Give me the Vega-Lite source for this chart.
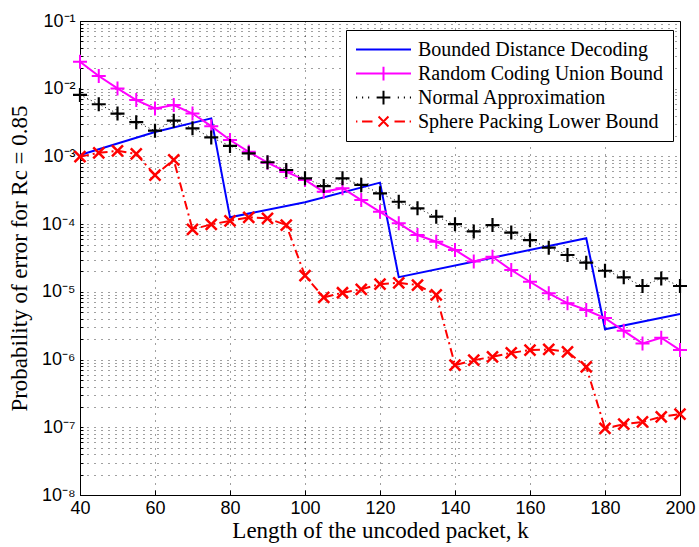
{
  "$schema": "https://vega.github.io/schema/vega-lite/v6.json",
  "width": 600,
  "height": 474,
  "autosize": "none",
  "padding": {"left": 80, "top": 21, "right": 19, "bottom": 52},
  "background": "white",
  "config": {
    "view": {"stroke": "black", "strokeWidth": 1},
    "axis": {
      "domainColor": "black",
      "tickColor": "black",
      "labelColor": "black",
      "titleColor": "black",
      "labelFont": "Liberation Sans",
      "labelFontSize": 18,
      "labelFlush": false,
      "titleFont": "Liberation Serif",
      "titleFontSize": 23,
      "titleFontWeight": "normal",
      "grid": true,
      "gridColor": "black",
      "gridDash": [1, 6],
      "gridOpacity": 0.75,
      "gridWidth": 1
    }
  },
  "data": {
    "values": [
      {"series": "Bounded Distance Decoding", "k": 40, "p": 1.05e-3},
      {"series": "Bounded Distance Decoding", "k": 60, "p": 2.3e-3},
      {"series": "Bounded Distance Decoding", "k": 75, "p": 3.65e-3},
      {"series": "Bounded Distance Decoding", "k": 80, "p": 1.26e-4},
      {"series": "Bounded Distance Decoding", "k": 100, "p": 2.1e-4},
      {"series": "Bounded Distance Decoding", "k": 120, "p": 4.1e-4},
      {"series": "Bounded Distance Decoding", "k": 125, "p": 1.65e-5},
      {"series": "Bounded Distance Decoding", "k": 150, "p": 3.2e-5},
      {"series": "Bounded Distance Decoding", "k": 175, "p": 6.2e-5},
      {"series": "Bounded Distance Decoding", "k": 180, "p": 2.8e-6},
      {"series": "Bounded Distance Decoding", "k": 200, "p": 4.7e-6},

      {"series": "Random Coding Union Bound", "k": 40, "p": 2.5e-2},
      {"series": "Random Coding Union Bound", "k": 45, "p": 1.54e-2},
      {"series": "Random Coding Union Bound", "k": 50, "p": 1.01e-2},
      {"series": "Random Coding Union Bound", "k": 55, "p": 6.8e-3},
      {"series": "Random Coding Union Bound", "k": 60, "p": 5.1e-3},
      {"series": "Random Coding Union Bound", "k": 65, "p": 5.75e-3},
      {"series": "Random Coding Union Bound", "k": 70, "p": 4.3e-3},
      {"series": "Random Coding Union Bound", "k": 75, "p": 2.8e-3},
      {"series": "Random Coding Union Bound", "k": 80, "p": 1.75e-3},
      {"series": "Random Coding Union Bound", "k": 85, "p": 1.17e-3},
      {"series": "Random Coding Union Bound", "k": 90, "p": 8.1e-4},
      {"series": "Random Coding Union Bound", "k": 95, "p": 5.9e-4},
      {"series": "Random Coding Union Bound", "k": 100, "p": 4.5e-4},
      {"series": "Random Coding Union Bound", "k": 105, "p": 3.0e-4},
      {"series": "Random Coding Union Bound", "k": 110, "p": 3.4e-4},
      {"series": "Random Coding Union Bound", "k": 115, "p": 2.27e-4},
      {"series": "Random Coding Union Bound", "k": 120, "p": 1.52e-4},
      {"series": "Random Coding Union Bound", "k": 125, "p": 1.03e-4},
      {"series": "Random Coding Union Bound", "k": 130, "p": 6.9e-5},
      {"series": "Random Coding Union Bound", "k": 135, "p": 5.5e-5},
      {"series": "Random Coding Union Bound", "k": 140, "p": 4.15e-5},
      {"series": "Random Coding Union Bound", "k": 145, "p": 2.8e-5},
      {"series": "Random Coding Union Bound", "k": 150, "p": 3.3e-5},
      {"series": "Random Coding Union Bound", "k": 155, "p": 2.1e-5},
      {"series": "Random Coding Union Bound", "k": 160, "p": 1.41e-5},
      {"series": "Random Coding Union Bound", "k": 165, "p": 9.5e-6},
      {"series": "Random Coding Union Bound", "k": 170, "p": 6.8e-6},
      {"series": "Random Coding Union Bound", "k": 175, "p": 5.4e-6},
      {"series": "Random Coding Union Bound", "k": 180, "p": 4.1e-6},
      {"series": "Random Coding Union Bound", "k": 185, "p": 2.66e-6},
      {"series": "Random Coding Union Bound", "k": 190, "p": 1.73e-6},
      {"series": "Random Coding Union Bound", "k": 195, "p": 2.1e-6},
      {"series": "Random Coding Union Bound", "k": 200, "p": 1.38e-6},

      {"series": "Normal Approximation", "k": 40, "p": 8.1e-3},
      {"series": "Normal Approximation", "k": 45, "p": 5.9e-3},
      {"series": "Normal Approximation", "k": 50, "p": 4.3e-3},
      {"series": "Normal Approximation", "k": 55, "p": 3.2e-3},
      {"series": "Normal Approximation", "k": 60, "p": 2.4e-3},
      {"series": "Normal Approximation", "k": 65, "p": 3.37e-3},
      {"series": "Normal Approximation", "k": 70, "p": 2.6e-3},
      {"series": "Normal Approximation", "k": 75, "p": 1.91e-3},
      {"series": "Normal Approximation", "k": 80, "p": 1.43e-3},
      {"series": "Normal Approximation", "k": 85, "p": 1.11e-3},
      {"series": "Normal Approximation", "k": 90, "p": 8.2e-4},
      {"series": "Normal Approximation", "k": 95, "p": 6.3e-4},
      {"series": "Normal Approximation", "k": 100, "p": 4.75e-4},
      {"series": "Normal Approximation", "k": 105, "p": 3.65e-4},
      {"series": "Normal Approximation", "k": 110, "p": 4.75e-4},
      {"series": "Normal Approximation", "k": 115, "p": 3.8e-4},
      {"series": "Normal Approximation", "k": 120, "p": 2.85e-4},
      {"series": "Normal Approximation", "k": 125, "p": 2.14e-4},
      {"series": "Normal Approximation", "k": 130, "p": 1.71e-4},
      {"series": "Normal Approximation", "k": 135, "p": 1.29e-4},
      {"series": "Normal Approximation", "k": 140, "p": 1.0e-4},
      {"series": "Normal Approximation", "k": 145, "p": 7.8e-5},
      {"series": "Normal Approximation", "k": 150, "p": 9.7e-5},
      {"series": "Normal Approximation", "k": 155, "p": 7.5e-5},
      {"series": "Normal Approximation", "k": 160, "p": 5.8e-5},
      {"series": "Normal Approximation", "k": 165, "p": 4.5e-5},
      {"series": "Normal Approximation", "k": 170, "p": 3.5e-5},
      {"series": "Normal Approximation", "k": 175, "p": 2.7e-5},
      {"series": "Normal Approximation", "k": 180, "p": 2.05e-5},
      {"series": "Normal Approximation", "k": 185, "p": 1.64e-5},
      {"series": "Normal Approximation", "k": 190, "p": 1.22e-5},
      {"series": "Normal Approximation", "k": 195, "p": 1.58e-5},
      {"series": "Normal Approximation", "k": 200, "p": 1.22e-5},

      {"series": "Sphere Packing Lower Bound", "k": 40, "p": 9.9e-4},
      {"series": "Sphere Packing Lower Bound", "k": 45, "p": 1.13e-3},
      {"series": "Sphere Packing Lower Bound", "k": 50, "p": 1.21e-3},
      {"series": "Sphere Packing Lower Bound", "k": 55, "p": 1.09e-3},
      {"series": "Sphere Packing Lower Bound", "k": 60, "p": 5.3e-4},
      {"series": "Sphere Packing Lower Bound", "k": 65, "p": 8.9e-4},
      {"series": "Sphere Packing Lower Bound", "k": 70, "p": 8.4e-5},
      {"series": "Sphere Packing Lower Bound", "k": 75, "p": 9.9e-5},
      {"series": "Sphere Packing Lower Bound", "k": 80, "p": 1.12e-4},
      {"series": "Sphere Packing Lower Bound", "k": 85, "p": 1.26e-4},
      {"series": "Sphere Packing Lower Bound", "k": 90, "p": 1.22e-4},
      {"series": "Sphere Packing Lower Bound", "k": 95, "p": 9.7e-5},
      {"series": "Sphere Packing Lower Bound", "k": 100, "p": 1.73e-5},
      {"series": "Sphere Packing Lower Bound", "k": 105, "p": 8.3e-6},
      {"series": "Sphere Packing Lower Bound", "k": 110, "p": 9.7e-6},
      {"series": "Sphere Packing Lower Bound", "k": 115, "p": 1.09e-5},
      {"series": "Sphere Packing Lower Bound", "k": 120, "p": 1.3e-5},
      {"series": "Sphere Packing Lower Bound", "k": 125, "p": 1.36e-5},
      {"series": "Sphere Packing Lower Bound", "k": 130, "p": 1.26e-5},
      {"series": "Sphere Packing Lower Bound", "k": 135, "p": 9.0e-6},
      {"series": "Sphere Packing Lower Bound", "k": 140, "p": 8.3e-7},
      {"series": "Sphere Packing Lower Bound", "k": 145, "p": 9.8e-7},
      {"series": "Sphere Packing Lower Bound", "k": 150, "p": 1.1e-6},
      {"series": "Sphere Packing Lower Bound", "k": 155, "p": 1.26e-6},
      {"series": "Sphere Packing Lower Bound", "k": 160, "p": 1.38e-6},
      {"series": "Sphere Packing Lower Bound", "k": 165, "p": 1.41e-6},
      {"series": "Sphere Packing Lower Bound", "k": 170, "p": 1.3e-6},
      {"series": "Sphere Packing Lower Bound", "k": 175, "p": 7.8e-7},
      {"series": "Sphere Packing Lower Bound", "k": 180, "p": 9.6e-8},
      {"series": "Sphere Packing Lower Bound", "k": 185, "p": 1.11e-7},
      {"series": "Sphere Packing Lower Bound", "k": 190, "p": 1.2e-7},
      {"series": "Sphere Packing Lower Bound", "k": 195, "p": 1.43e-7},
      {"series": "Sphere Packing Lower Bound", "k": 200, "p": 1.56e-7}
    ]
  },
  "encoding": {
    "x": {
      "field": "k",
      "type": "quantitative",
      "scale": {"domain": [40, 200], "nice": false, "zero": false},
      "axis": {
        "values": [40, 60, 80, 100, 120, 140, 160, 180, 200],
        "title": "Length of the uncoded packet, k",
        "tickSize": -5,
        "labelPadding": 9,
        "titlePadding": 2
      }
    },
    "y": {
      "field": "p",
      "type": "quantitative",
      "scale": {"type": "log", "domain": [1e-8, 1e-1], "nice": false},
      "axis": {
        "values": [1e-8, 2e-8, 3e-8, 4e-8, 5e-8, 6e-8, 7e-8, 8e-8, 9e-8,
                   1e-7, 2e-7, 3e-7, 4e-7, 5e-7, 6e-7, 7e-7, 8e-7, 9e-7,
                   1e-6, 2e-6, 3e-6, 4e-6, 5e-6, 6e-6, 7e-6, 8e-6, 9e-6,
                   1e-5, 2e-5, 3e-5, 4e-5, 5e-5, 6e-5, 7e-5, 8e-5, 9e-5,
                   1e-4, 2e-4, 3e-4, 4e-4, 5e-4, 6e-4, 7e-4, 8e-4, 9e-4,
                   1e-3, 2e-3, 3e-3, 4e-3, 5e-3, 6e-3, 7e-3, 8e-3, 9e-3,
                   1e-2, 2e-2, 3e-2, 4e-2, 5e-2, 6e-2, 7e-2, 8e-2, 9e-2, 1e-1],
        "labelExpr": "abs(log(datum.value)/LN10 - round(log(datum.value)/LN10)) < 0.001 ? '10⁻' + ['⁰','¹','²','³','⁴','⁵','⁶','⁷','⁸','⁹'][-round(log(datum.value)/LN10)] : ''",
        "title": "Probability of error for Rc = 0.85",
        "tickSize": -3,
        "labelPadding": 8,
        "titlePadding": 10
      }
    }
  },
  "layer": [
    {
      "transform": [{"filter": "datum.series === 'Normal Approximation'"}],
      "mark": {"type": "line", "color": "black", "strokeWidth": 1, "strokeDash": [1, 3]},
      "encoding": {}
    },
    {
      "transform": [{"filter": "datum.series === 'Sphere Packing Lower Bound'"}],
      "mark": {"type": "line", "color": "#ff0000", "strokeWidth": 2, "strokeDash": [9, 4, 2, 4]},
      "encoding": {}
    },
    {
      "transform": [{"filter": "datum.series === 'Bounded Distance Decoding'"}],
      "mark": {"type": "line", "color": "#0000ff", "strokeWidth": 2},
      "encoding": {}
    },
    {
      "transform": [{"filter": "datum.series === 'Random Coding Union Bound'"}],
      "mark": {"type": "line", "color": "#ff00ff", "strokeWidth": 2},
      "encoding": {}
    },
    {
      "transform": [{"filter": "datum.series === 'Random Coding Union Bound'"}],
      "mark": {"type": "point", "shape": "M-1,0H1M0,-1V1", "filled": false, "color": "#ff00ff", "strokeWidth": 2, "size": 196, "opacity": 1},
      "encoding": {}
    },
    {
      "transform": [{"filter": "datum.series === 'Normal Approximation'"}],
      "mark": {"type": "point", "shape": "M-1,0H1M0,-1V1", "filled": false, "color": "black", "strokeWidth": 2.2, "size": 196, "opacity": 1},
      "encoding": {}
    },
    {
      "transform": [{"filter": "datum.series === 'Sphere Packing Lower Bound'"}],
      "mark": {"type": "point", "shape": "M-1,-1L1,1M-1,1L1,-1", "filled": false, "color": "#ff0000", "strokeWidth": 2.5, "size": 121, "opacity": 1},
      "encoding": {}
    },
    {
      "transform": [{"filter": "false"}],
      "mark": {"type": "point", "filled": false, "strokeWidth": 2, "opacity": 1},
      "encoding": {
        "color": {
          "field": "series",
          "type": "nominal",
          "scale": {
            "domain": ["Bounded Distance Decoding", "Random Coding Union Bound", "Normal Approximation", "Sphere Packing Lower Bound"],
            "range": ["#0000ff", "#ff00ff", "#000000", "#ff0000"]
          },
          "legend": {
            "orient": "none",
            "legendX": 266,
            "legendY": 9,
            "title": null,
            "symbolSize": 3025,
            "symbolStrokeWidth": 2,
            "symbolOpacity": 1,
            "labelFont": "Liberation Serif",
            "labelFontSize": 20,
            "labelColor": "black",
            "labelOffset": 6,
            "labelLimit": 400,
            "clipHeight": 21,
            "rowPadding": 3,
            "padding": 9,
            "strokeColor": "black",
            "fillColor": "white",
            "cornerRadius": 0
          }
        },
        "shape": {
          "field": "series",
          "type": "nominal",
          "scale": {
            "domain": ["Bounded Distance Decoding", "Random Coding Union Bound", "Normal Approximation", "Sphere Packing Lower Bound"],
            "range": [
              "M-1,0H1",
              "M-1,0H1M0,-0.25V0.25",
              "M-1,0H-0.96M-0.78,0H-0.74M-0.56,0H-0.52M-0.25,0H0.25M0,-0.25V0.25M0.52,0H0.56M0.74,0H0.78M0.96,0H1",
              "M-1,0H-0.95M-0.78,0H-0.4M-0.18,-0.18L0.18,0.18M-0.18,0.18L0.18,-0.18M0.4,0H0.78M0.95,0H1"
            ]
          },
          "legend": {
            "orient": "none",
            "legendX": 266,
            "legendY": 9,
            "title": null
          }
        }
      }
    }
  ]
}
